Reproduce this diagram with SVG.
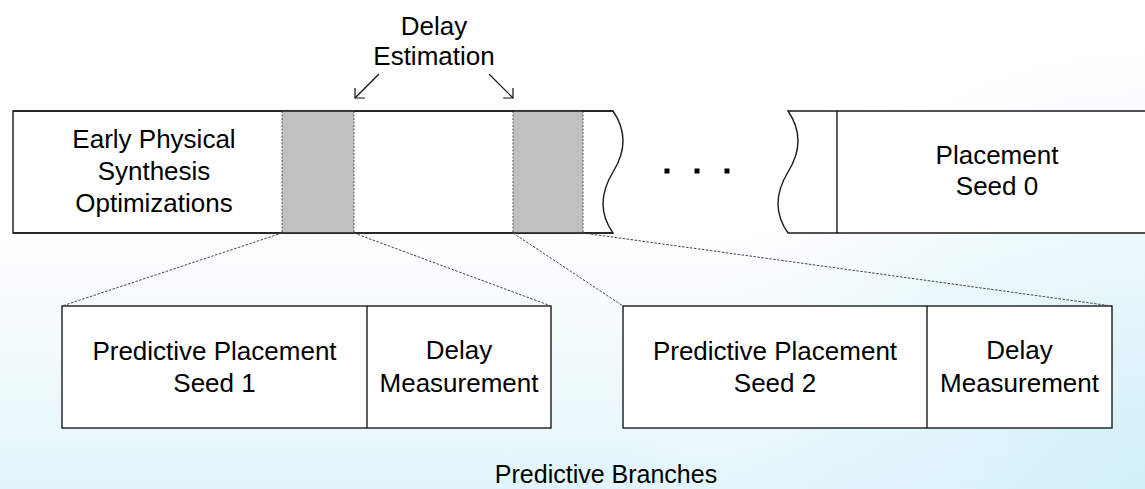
<svg xmlns="http://www.w3.org/2000/svg" width="1145" height="489" viewBox="0 0 1145 489">
  <defs>
    <linearGradient id="bgv" x1="0" y1="0" x2="0" y2="489" gradientUnits="userSpaceOnUse">
      <stop offset="0.45" stop-color="#ffffff"/>
      <stop offset="0.8" stop-color="#eef9fc"/>
      <stop offset="1" stop-color="#e0f5fb"/>
    </linearGradient>
    <radialGradient id="bgr" cx="1145" cy="489" r="520" gradientUnits="userSpaceOnUse">
      <stop offset="0" stop-color="#d2f0f9" stop-opacity="0.95"/>
      <stop offset="0.6" stop-color="#dff4fa" stop-opacity="0.4"/>
      <stop offset="1" stop-color="#ffffff" stop-opacity="0"/>
    </radialGradient>
    <marker id="open-head" viewBox="-12 -8 14 16" markerWidth="14" markerHeight="16" refX="0" refY="0" orient="auto" markerUnits="userSpaceOnUse">
      <path d="M-7,-7 L0,0 L-7,7" fill="none" stroke="#111" stroke-width="1.2"/>
    </marker>
    <style>
      .box { fill: #ffffff; stroke: #1a1a1a; stroke-width: 1.4; }
      .edge { fill: none; stroke: #1a1a1a; stroke-width: 1.4; }
      .shade { fill: #c0c0c0; stroke: none; }
      .dot-edge { fill: none; stroke: #555; stroke-width: 1; stroke-dasharray: 2 1.5; }
      .proj { fill: none; stroke: #444; stroke-width: 1; stroke-dasharray: 2.5 1.5; }
      .arrow { fill: none; stroke: #111; stroke-width: 1.2; marker-end: url(#open-head); }
      .lbl { font-family: "Liberation Sans", Arial, sans-serif; font-size: 26px; fill: #000; text-anchor: middle; }
    </style>
  </defs>

  <!-- background wash -->
  <rect x="0" y="0" width="1145" height="489" fill="url(#bgv)"/>
  <rect x="0" y="0" width="1145" height="489" fill="url(#bgr)"/>

  <!-- top timeline strip, left part -->
  <g id="early-physical-synthesis">
    <path class="box" d="M613,111 H13 V233 H613 Q593,205 613,172 Q633,140 613,111 Z"/>
    <text class="lbl" x="154" y="148">Early Physical</text>
    <text class="lbl" x="154" y="180">Synthesis</text>
    <text class="lbl" x="154" y="212">Optimizations</text>
  </g>

  <!-- shaded delay-estimation slots -->
  <g id="delay-slot-1">
    <rect class="shade" x="282" y="111" width="72" height="122"/>
    <line class="dot-edge" x1="282" y1="111" x2="282" y2="233"/>
    <line class="dot-edge" x1="354" y1="111" x2="354" y2="233"/>
  </g>
  <g id="delay-slot-2">
    <rect class="shade" x="513" y="111" width="70" height="122"/>
    <line class="dot-edge" x1="513" y1="111" x2="513" y2="233"/>
    <line class="dot-edge" x1="583" y1="111" x2="583" y2="233"/>
  </g>
  <!-- redraw strip top/bottom over the shading -->
  <g id="strip-edges">
    <line class="edge" x1="13" y1="111" x2="613" y2="111"/>
    <line class="edge" x1="13" y1="233" x2="613" y2="233"/>
  </g>

  <!-- ellipsis -->
  <g id="ellipsis" fill="#000">
    <rect x="664.5" y="168.5" width="5" height="5"/>
    <rect x="694.5" y="168.5" width="5" height="5"/>
    <rect x="724.5" y="168.5" width="5" height="5"/>
  </g>

  <!-- top timeline strip, right part -->
  <g id="placement-seed-0">
    <path class="box" d="M788,111 H1146 V233 H788 Q768,205 788,172 Q808,140 788,111 Z"/>
    <line class="edge" x1="837" y1="111" x2="837" y2="233"/>
    <text class="lbl" x="997" y="164">Placement</text>
    <text class="lbl" x="997" y="195">Seed 0</text>
  </g>

  <!-- delay estimation label -->
  <g id="delay-estimation">
    <text class="lbl" x="434" y="35">Delay</text>
    <text class="lbl" x="434" y="65">Estimation</text>
  </g>

  <!-- predictive branch 1 -->
  <g id="branch-1">
    <rect class="box" x="62" y="306" width="489" height="122"/>
    <line class="edge" x1="367" y1="306" x2="367" y2="428"/>
    <text class="lbl" x="214.5" y="360">Predictive Placement</text>
    <text class="lbl" x="214.5" y="392">Seed 1</text>
    <text class="lbl" x="459" y="359">Delay</text>
    <text class="lbl" x="459" y="392">Measurement</text>
  </g>

  <!-- predictive branch 2 -->
  <g id="branch-2">
    <rect class="box" x="623" y="306" width="489" height="122"/>
    <line class="edge" x1="927" y1="306" x2="927" y2="428"/>
    <text class="lbl" x="775" y="360">Predictive Placement</text>
    <text class="lbl" x="775" y="392">Seed 2</text>
    <text class="lbl" x="1019.5" y="359">Delay</text>
    <text class="lbl" x="1019.5" y="392">Measurement</text>
  </g>

  <g id="predictive-branches-caption">
    <text class="lbl" x="606" y="483" style="font-size:25px">Predictive Branches</text>
  </g>

  <!-- connectors -->
  <g id="connectors">
    <line class="arrow" x1="379" y1="74" x2="355" y2="98"/>
    <line class="arrow" x1="489" y1="74" x2="513" y2="98"/>
    <line class="proj" x1="282" y1="233" x2="62" y2="306"/>
    <line class="proj" x1="354" y1="233" x2="551" y2="306"/>
    <line class="proj" x1="513" y1="233" x2="623" y2="306"/>
    <line class="proj" x1="583" y1="233" x2="1112" y2="306"/>
  </g>
</svg>
